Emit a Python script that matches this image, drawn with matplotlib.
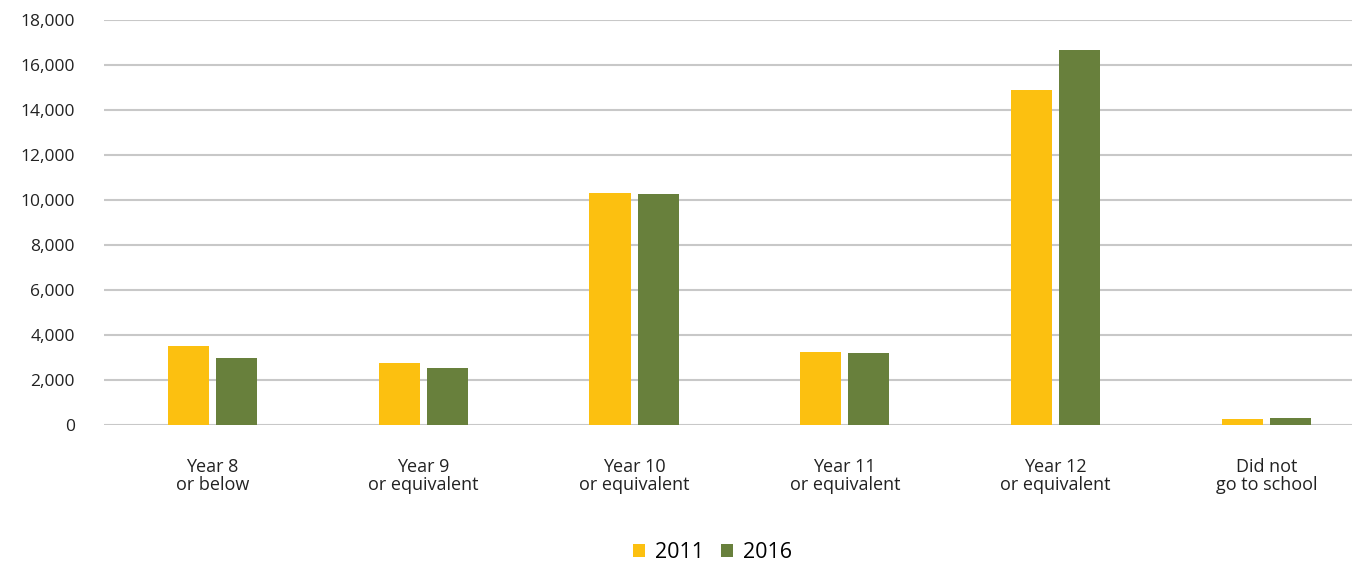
import matplotlib
matplotlib.use("Agg")
import matplotlib.pyplot as plt
import numpy as np
from matplotlib.ticker import FuncFormatter

# Data
categories = ["Year 8\nor below", "Year 9\nor equivalent", "Year 10\nor equivalent",
              "Year 11\nor equivalent", "Year 12\nor equivalent", "Did not\ngo to school"]
values_2011 = [3510, 2760, 10310, 3240, 14890, 270]
values_2016 = [2980, 2530, 10270, 3200, 16670, 310]

plt.rcParams['font.family'] = ['Open Sans', 'DejaVu Sans']

fig = plt.figure(figsize=(13.57, 5.62), dpi=100)
ax = fig.add_axes([0.0766, 0.2438, 0.9197, 0.7206])

x = np.arange(len(categories))
w = 0.195
off = 0.114
ax.bar(x - off, values_2011, w, color="#FCC010", label="2011", zorder=3)
ax.bar(x + off, values_2016, w, color="#68803C", label="2016", zorder=3)

ax.set_xlim(-0.515, 5.406)
ax.set_ylim(0, 18000)
ax.set_yticks(np.arange(0, 18001, 2000))
ax.yaxis.set_major_formatter(FuncFormatter(lambda v, p: f"{int(v):,}"))
ax.grid(axis='y', color="#C8C8C8", linewidth=1.5, zorder=0)
ax.set_axisbelow(True)

ax.set_xticks(x)
ax.set_xticklabels(categories, fontsize=13, color="#222222", linespacing=1.0)
ax.tick_params(axis='x', length=0, pad=24)
ax.tick_params(axis='y', length=0, pad=21, labelsize=12.5, labelcolor="#222222")
for s in ax.spines.values():
    s.set_visible(False)

fig.legend(loc='center', bbox_to_anchor=(0.525, 1 - 553 / 562), ncol=2, frameon=False,
           fontsize=15.5, handlelength=0.55, handleheight=0.55, handletextpad=0.45,
           columnspacing=0.8)

fig.savefig("out.png", dpi=100)
